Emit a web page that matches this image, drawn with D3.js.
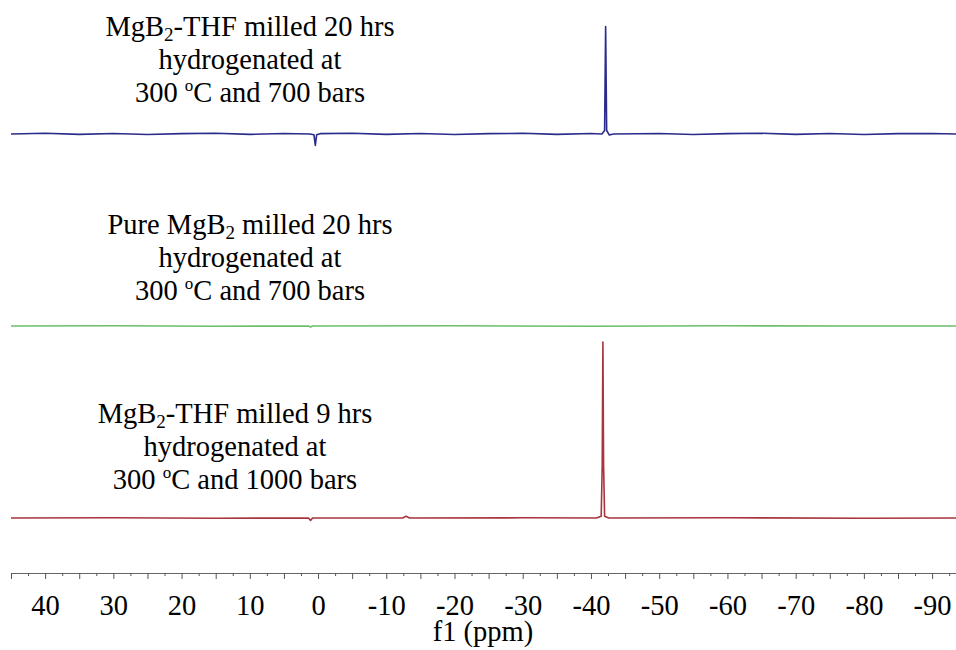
<!DOCTYPE html>
<html>

<head>
  <meta charset="utf-8">
  <title>NMR spectra</title>
  <script src="https://d3js.org/d3.v7.min.js"></script>
  <style>
    body { margin: 0; background: #fff; }
    svg { display: block; font-family: "Liberation Serif", "Times New Roman", serif; }
  </style>
</head>

<body>
  <svg width="956" height="650"></svg>
  <script>
    // spectra as [ppm, relative intensity]
    const blueSpectrum = [
      [45, 0], [40, 0.004], [35, -0.002], [30, 0.003], [25, -0.003], [20, 0.002], [15, 0.004],
      [10, -0.002], [5, 0.003], [1.2, 0], [0.6, -0.004], [0.4, -0.065], [0.2, -0.004], [-0.3, 0.002],
      [-5, 0.004], [-10, -0.002], [-15, 0.003], [-20, -0.003], [-25, 0.002], [-30, 0.004],
      [-35, -0.002], [-40, 0.003], [-41.6, 0], [-42.0, 0.02], [-42.15, 0.61], [-42.3, 0.02],
      [-42.7, -0.006], [-43.3, 0], [-50, 0.003], [-55, -0.003], [-60, 0.002], [-65, 0.004],
      [-70, -0.002], [-75, 0.003], [-80, -0.003], [-85, 0.002], [-90, 0.003], [-93.5, 0]
    ];
    const greenSpectrum = [
      [45, 0], [30, 0.001], [15, -0.001], [1.4, 0], [1.1, -0.006], [0.8, 0],
      [-20, 0.001], [-40, -0.001], [-60, 0.001], [-80, 0], [-93.5, 0]
    ];
    const redSpectrum = [
      [45, 0], [30, 0.001], [15, -0.001], [1.4, 0], [1.1, -0.014], [0.8, 0],
      [-12.4, 0], [-12.9, 0.01], [-13.4, 0], [-30, 0.001], [-40.8, 0], [-41.5, 0.01],
      [-41.65, 0.3], [-41.75, 1.0], [-41.85, 0.3], [-42.0, 0.01], [-42.6, 0],
      [-60, 0.001], [-80, -0.001], [-93.5, 0]
    ];

    const seriesColors = ["#2b2b8c", "#6cbf6c", "#a8343e"];

    const labels = [
      ["MgB|2|-THF milled 20 hrs", "hydrogenated at", "300 °C and 700 bars"],
      ["Pure MgB|2| milled 20 hrs", "hydrogenated at", "300 °C and 700 bars"],
      ["MgB|2|-THF milled 9 hrs", "hydrogenated at", "300 °C and 1000 bars"]
    ];

    const majorTicks = d3.range(45, -95, -5);
    const minorTicks = d3.range(42.5, -95, -5);

    const svg = d3.select("svg");
    const width = 956;
    const axisY = 573;

    const x = d3.scaleLinear().domain([45, -93.5]).range([11, width]);
    const y = d3.scaleLinear().domain([0, 1]).range([0, -176]);

    const baselines = [134, 326, 518];
    const labelCenters = [250, 250, 235];
    const labelTops = [36, 234, 423];

    const line = d3.line()
      .x(d => x(d[0]))
      .y(d => y(d[1]));

    [blueSpectrum, greenSpectrum, redSpectrum].forEach((s, i) => {
      svg.append("path")
        .datum(s)
        .attr("transform", `translate(0,${baselines[i]})`)
        .attr("d", line)
        .attr("fill", "none")
        .attr("stroke", seriesColors[i])
        .attr("stroke-width", 1.6)
        .attr("stroke-linejoin", "round");
    });

    // sample annotations
    labels.forEach((lines, i) => {
      lines.forEach((txt, j) => {
        const t = svg.append("text")
          .attr("x", labelCenters[i])
          .attr("y", labelTops[i] + j * 33)
          .attr("text-anchor", "middle")
          .attr("font-size", 28.5)
          .attr("fill", "#000");
        if (txt.includes("|")) {
          const parts = txt.split("|");
          t.append("tspan").text(parts[0]);
          t.append("tspan").attr("font-size", 19).attr("dy", 5).text(parts[1]);
          t.append("tspan").attr("dy", -5).text(parts[2]);
        } else if (txt.includes("°")) {
          const parts = txt.split("°");
          t.append("tspan").text(parts[0]);
          t.append("tspan").attr("font-size", 17).attr("dy", -11).text("o");
          t.append("tspan").attr("dy", 11).text(parts[1]);
        } else {
          t.text(txt);
        }
      });
    });

    // x axis
    const fmt = d => (d % 10 === 0 && d <= 40) ? String(d) : "";
    const gAxis = svg.append("g")
      .attr("transform", `translate(0,${axisY})`)
      .call(d3.axisBottom(x).tickValues(majorTicks).tickFormat(fmt)
        .tickSizeInner(6).tickSizeOuter(0).tickPadding(16));
    svg.append("g")
      .attr("transform", `translate(0,${axisY})`)
      .call(d3.axisBottom(x).tickValues(minorTicks).tickFormat("")
        .tickSizeInner(3).tickSizeOuter(0))
      .select(".domain").remove();

    svg.selectAll(".tick line").attr("stroke", "#555");
    gAxis.select(".domain").attr("stroke", "#666");
    gAxis.selectAll(".tick text")
      .attr("font-family", "Liberation Serif, Times New Roman, serif")
      .attr("font-size", 28.5)
      .attr("fill", "#000");

    svg.append("text")
      .attr("x", 483)
      .attr("y", 641)
      .attr("text-anchor", "middle")
      .attr("font-size", 28.5)
      .attr("fill", "#000")
      .text("f1 (ppm)");
  </script>
</body>

</html>
